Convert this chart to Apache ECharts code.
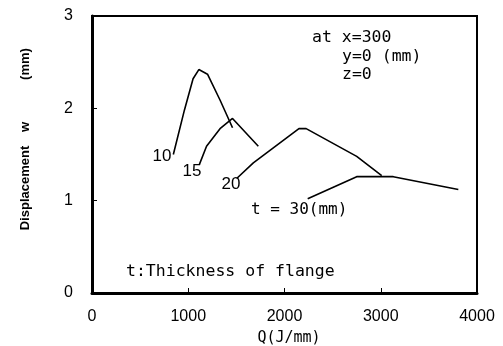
<!DOCTYPE html>
<html><head><meta charset="utf-8">
<script src="https://cdn.jsdelivr.net/npm/echarts@6/dist/echarts.min.js"></script>
<style>html,body{margin:0;padding:0;background:#fff}#c{width:503px;height:346px}</style>
</head><body><div id="c"></div>
<script>
// Data
var q10 = [845, 960, 1050, 1110, 1200, 1330, 1460];
var w10 = [1.50, 1.98, 2.32, 2.42, 2.37, 2.09, 1.79];
var q15 = [1115, 1190, 1330, 1460, 1728];
var w15 = [1.39, 1.59, 1.78, 1.89, 1.59];
var q20 = [1503, 1676, 2150, 2225, 2750, 3010];
var w20 = [1.24, 1.41, 1.78, 1.78, 1.48, 1.27];
var q30 = [2241, 2750, 3130, 3806];
var w30 = [1.02, 1.26, 1.26, 1.12];
var xTicks = [0, 1000, 2000, 3000, 4000];
var yTicks = [0, 1, 2, 3];

function pairs(a, b) { return a.map(function (v, i) { return [v, b[i]]; }); }
function lineSeries(name, a, b) {
  return { name: name, type: 'line', data: pairs(a, b), showSymbol: false, symbol: 'none',
    lineStyle: { color: '#000', width: 1.6 }, animation: false, silent: true };
}
var mono = 'DejaVu Sans Mono';
var chart = echarts.init(document.getElementById('c'), null, { renderer: 'canvas' });
chart.setOption({
  animation: false,
  grid: { left: 92, right: 26, top: 16, bottom: 53, show: true, borderColor: '#000', borderWidth: 2, backgroundColor: 'transparent' },
  xAxis: { type: 'value', min: xTicks[0], max: xTicks[xTicks.length - 1], interval: 1000,
    axisLine: { lineStyle: { color: '#000', width: 3 } },
    axisTick: { inside: true, length: 5, lineStyle: { color: '#000', width: 1 } },
    splitLine: { show: false },
    axisLabel: { color: '#000', fontFamily: 'Liberation Sans', fontSize: 16, margin: 16, formatter: function (v) { return String(v); } } },
  yAxis: { type: 'value', min: yTicks[0], max: yTicks[yTicks.length - 1], interval: 1,
    axisLine: { lineStyle: { color: '#000', width: 3 } },
    axisTick: { inside: true, length: 5, lineStyle: { color: '#000', width: 1 } },
    splitLine: { show: false },
    axisLabel: { color: '#000', fontFamily: 'Liberation Sans', fontSize: 16, margin: 19, formatter: function (v) { return String(v); } } },
  series: [lineSeries('10', q10, w10), lineSeries('15', q15, w15), lineSeries('20', q20, w20), lineSeries('30', q30, w30)],
  graphic: [
    { type: 'text', x: 162, y: 156, style: { text: '10', font: '17px Liberation Sans', fill: '#000', align: 'center', verticalAlign: 'middle' } },
    { type: 'text', x: 192, y: 171, style: { text: '15', font: '17px Liberation Sans', fill: '#000', align: 'center', verticalAlign: 'middle' } },
    { type: 'text', x: 231, y: 184, style: { text: '20', font: '17px Liberation Sans', fill: '#000', align: 'center', verticalAlign: 'middle' } },
    { type: 'text', x: 251, y: 210, style: { text: 't = 30(mm)', font: '16px "' + mono + '"', fill: '#000', align: 'left', verticalAlign: 'middle' } },
    { type: 'text', x: 312, y: 38, style: { text: 'at x=300', font: '16.5px "' + mono + '"', fill: '#000', align: 'left', verticalAlign: 'middle' } },
    { type: 'text', x: 342, y: 57, style: { text: 'y=0 (mm)', font: '16.5px "' + mono + '"', fill: '#000', align: 'left', verticalAlign: 'middle' } },
    { type: 'text', x: 342, y: 75, style: { text: 'z=0', font: '16.5px "' + mono + '"', fill: '#000', align: 'left', verticalAlign: 'middle' } },
    { type: 'text', x: 126, y: 272, style: { text: 't:Thickness of flange', font: '16.5px "' + mono + '"', fill: '#000', align: 'left', verticalAlign: 'middle' } },
    { type: 'text', x: 289, y: 338, style: { text: 'Q(J/mm)', font: '15px "' + mono + '"', fill: '#000', align: 'center', verticalAlign: 'middle' } },
    { type: 'text', x: 25, y: 188, rotation: Math.PI / 2, style: { text: 'Displacement', font: 'bold 13px Liberation Sans', fill: '#000', align: 'center', verticalAlign: 'middle' } },
    { type: 'text', x: 25, y: 127, rotation: Math.PI / 2, style: { text: 'w', font: 'bold 13px Liberation Sans', fill: '#000', align: 'center', verticalAlign: 'middle' } },
    { type: 'text', x: 25, y: 64, rotation: Math.PI / 2, style: { text: '(mm)', font: 'bold 13px Liberation Sans', fill: '#000', align: 'center', verticalAlign: 'middle' } }
  ]
});
</script></body></html>
